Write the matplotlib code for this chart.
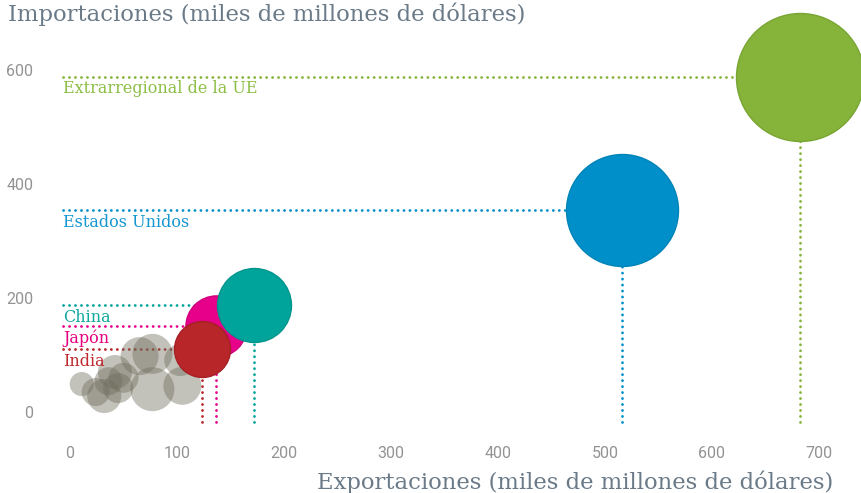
import numpy as np
import matplotlib
matplotlib.use("Agg")
import matplotlib.pyplot as plt

# highlighted partners: exports, imports (billions USD), total trade (bubble)
nombres = ["Japón", "India", "China", "Estados Unidos", "Extrarregional de la UE"]
export_d = [136, 123, 172, 516, 682]
import_d = [150, 110, 187, 354, 588]
comercio_d = [290, 243, 424, 972, 1270]
colores = ["#e6008a", "#b8262a", "#00a49a", "#008fc8", "#86b33a"]
bordes = ["#d0007c", "#a52025", "#00958b", "#0083b8", "#78a532"]
txt_col = ["#e5007e", "#c0282d", "#10a89c", "#1496d0", "#8cbf45"]

# other countries (grey bubbles)
export_g = [11, 24, 32, 36, 45, 50, 42, 65, 77, 77, 105, 103]
import_g = [49, 35, 28, 54, 42, 60, 70, 98, 102, 40, 46, 91]
comercio_g = [45, 61, 90, 61, 70, 70, 90, 112, 124, 150, 112, 79]

xticks = [0, 100, 200, 300, 400, 500, 600, 700]
yticks = [0, 200, 400, 600]

W, H, DPI = 862, 493, 100
fig = plt.figure(figsize=(W / DPI, H / DPI), dpi=DPI)
ax = fig.add_axes([50 / W, 61 / H, 812 / W, 432 / H])
ax.set_xlim(-18.7, 740.2)
ax.set_ylim(-35.1, 722.8)
for s in ax.spines.values():
    s.set_visible(False)

def tam(v):
    r_px = 64 * np.sqrt(np.asarray(v) / 1270.0)
    return (2 * r_px * 72 / DPI) ** 2

ax.scatter(export_g, import_g, s=tam(comercio_g), color="#6f6d5c", alpha=0.42,
           linewidths=0, zorder=2)

dots = dict(linestyle=(0, (0.05, 2.1)), linewidth=2.0, dash_capstyle="round", zorder=1)
x_izq = -6.5
y_base = -17.5
for i in range(len(nombres)):
    ax.plot([x_izq, export_d[i]], [import_d[i], import_d[i]], color=colores[i], **dots)
    ax.plot([export_d[i], export_d[i]], [y_base, import_d[i]], color=colores[i], **dots)
    ax.scatter([export_d[i]], [import_d[i]], s=tam(comercio_d[i]), color=colores[i],
               edgecolors=bordes[i], linewidths=1.0, zorder=3 + i)
    ax.annotate(nombres[i], (x_izq, import_d[i]), xytext=(0, -2.5),
                textcoords="offset points", ha="left", va="top",
                family="DejaVu Serif", fontsize=11.5, color=txt_col[i], zorder=10)

ax.set_xticks(xticks)
ax.set_yticks(yticks)
ax.tick_params(length=0, colors="#939393", labelsize=11.5)
ax.tick_params(axis="x", pad=10)
ax.tick_params(axis="y", pad=12)
for lab in ax.get_xticklabels() + ax.get_yticklabels():
    lab.set_family("Roboto")

fig.text(8 / W, 1 - 14 / H, "Importaciones (miles de millones de dólares)",
         family="DejaVu Serif", fontsize=16.4, color="#6a7a88", va="center", ha="left")
fig.text(833 / W, 1 - 482 / H, "Exportaciones (miles de millones de dólares)",
         family="DejaVu Serif", fontsize=16.4, color="#6a7a88", va="center", ha="right")

fig.savefig("out.png", dpi=DPI)
